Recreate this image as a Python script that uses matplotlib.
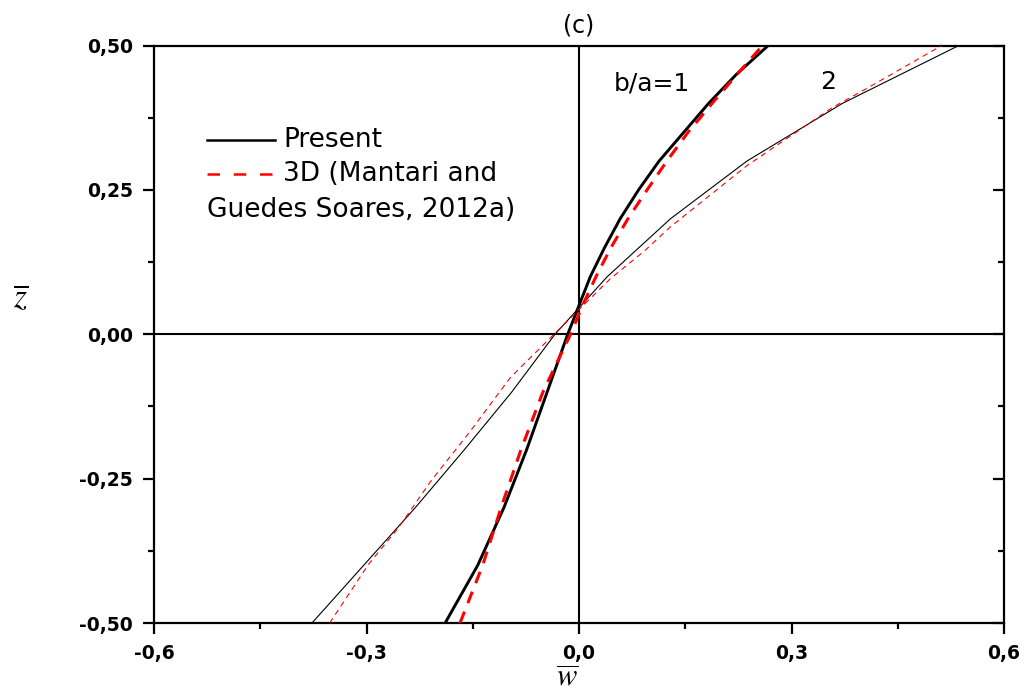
import matplotlib
matplotlib.use("Agg")
import matplotlib.pyplot as plt
from matplotlib.ticker import MultipleLocator, FixedLocator
from matplotlib.lines import Line2D

plt.rcParams['font.family'] = ['DejaVu Sans']
plt.rcParams['mathtext.fontset'] = 'stix'

# b/a = 1, Present (thick solid black)
z1_present = [-0.5, -0.4, -0.3, -0.2, -0.1, 0.0, 0.05, 0.1, 0.15, 0.2, 0.25, 0.3, 0.35, 0.4, 0.45, 0.5]
w1_present = [-0.189, -0.143, -0.106, -0.074, -0.045, -0.016, 0.0, 0.016, 0.036, 0.058, 0.084,
              0.113, 0.148, 0.183, 0.222, 0.267]

# b/a = 1, 3D Mantari (thick dashed red)
z1_3d = [-0.5, -0.4, -0.3, -0.2, -0.1, 0.0, 0.05, 0.1, 0.15, 0.2, 0.25, 0.3, 0.35, 0.4, 0.45, 0.5]
w1_3d = [-0.168, -0.136, -0.110, -0.082, -0.051, -0.012, 0.005, 0.024, 0.045, 0.069, 0.096,
         0.124, 0.154, 0.188, 0.223, 0.259]

# b/a = 2, Present (thin solid black)
z2_present = [-0.5, -0.4, -0.3, -0.2, -0.1, 0.0, 0.1, 0.2, 0.3, 0.4, 0.5]
w2_present = [-0.377, -0.304, -0.231, -0.162, -0.095, -0.034, 0.040, 0.129, 0.237, 0.372, 0.536]

# b/a = 2, 3D Mantari (thin dashed red)
z2_3d = [-0.5, -0.398, -0.335, -0.254, -0.167, -0.075, 0.003, 0.096, 0.145, 0.185, 0.292, 0.393, 0.425, 0.5]
w2_3d = [-0.352, -0.297, -0.255, -0.209, -0.153, -0.097, -0.033, 0.044, 0.093, 0.128, 0.237, 0.358, 0.405, 0.512]

xticks = [-0.6, -0.3, 0.0, 0.3, 0.6]
xtick_labels = ['-0,6', '-0,3', '0,0', '0,3', '0,6']
yticks = [-0.5, -0.25, 0.0, 0.25, 0.5]
ytick_labels = ['-0,50', '-0,25', '0,00', '0,25', '0,50']

fig = plt.figure(figsize=(10.29, 6.91), dpi=100)
ax = fig.add_axes([0.1497, 0.0984, 0.826, 0.8356])

ax.plot(w1_present, z1_present, color='black', lw=2.1, zorder=3)
ax.plot(w1_3d, z1_3d, color='red', lw=2.2, ls=(0, (4, 3)), zorder=4)
ax.plot(w2_present, z2_present, color='black', lw=0.8, zorder=3)
ax.plot(w2_3d, z2_3d, color='red', lw=0.8, ls=(0, (5, 4)), zorder=4)

ax.axhline(0, color='black', lw=1.5, zorder=2)
ax.axvline(0, color='black', lw=1.5, zorder=2)

ax.set_xlim(-0.6, 0.6)
ax.set_ylim(-0.5, 0.5)

for s in ax.spines.values():
    s.set_linewidth(1.6)

ax.xaxis.set_major_locator(FixedLocator(xticks))
ax.set_xticklabels(xtick_labels, fontsize=13.5, fontweight='bold')
ax.xaxis.set_minor_locator(MultipleLocator(0.15))
ax.yaxis.set_major_locator(FixedLocator(yticks))
ax.set_yticklabels(ytick_labels, fontsize=13.5, fontweight='bold')
ax.yaxis.set_minor_locator(MultipleLocator(0.125))

ax.tick_params(axis='both', which='major', direction='out', length=8, width=1.6)
ax.tick_params(axis='y', which='major', pad=7)
ax.tick_params(axis='x', which='major', pad=7)
ax.tick_params(axis='both', which='minor', direction='out', length=4.5, width=1.6)
ax.tick_params(axis='x', top=False, which='both')

# inward ticks on right side
ax2 = ax.twinx()
ax2.set_ylim(-0.5, 0.5)
ax2.yaxis.set_major_locator(FixedLocator(yticks))
ax2.yaxis.set_minor_locator(MultipleLocator(0.125))
ax2.tick_params(axis='y', which='major', direction='in', length=8, width=1.6, labelright=False)
ax2.tick_params(axis='y', which='minor', direction='in', length=4.5, width=1.6)
for s in ax2.spines.values():
    s.set_visible(False)

ax.text(0.0, 1.035, '(c)', transform=ax.get_xaxis_transform(), ha='center', va='center', fontsize=17)

ax.text(0.103, 0.434, 'b/a=1', ha='center', va='center', fontsize=18)
ax.text(0.352, 0.437, '2', ha='center', va='center', fontsize=18)

fig.text(0.551, 0.019, r'$\overline{w}$', fontsize=22, ha='center', va='center')
fig.text(0.020, 0.569, r'$\overline{z}$', fontsize=24, ha='center', va='center')

# manual legend
ax.add_line(Line2D([0.0624, 0.1424], [0.836, 0.836], transform=ax.transAxes, color='black', lw=1.8))
ax.add_line(Line2D([0.0624, 0.1424], [0.777, 0.777], transform=ax.transAxes, color='red', lw=1.8,
                   ls=(0, (5, 5.5))))
ax.text(0.152, 0.836, 'Present', transform=ax.transAxes, va='center', ha='left', fontsize=19)
ax.text(0.152, 0.777, '3D (Mantari and', transform=ax.transAxes, va='center', ha='left', fontsize=19)
ax.text(0.0624, 0.715, 'Guedes Soares, 2012a)', transform=ax.transAxes, va='center', ha='left', fontsize=19)

fig.savefig('out.png', dpi=100)
